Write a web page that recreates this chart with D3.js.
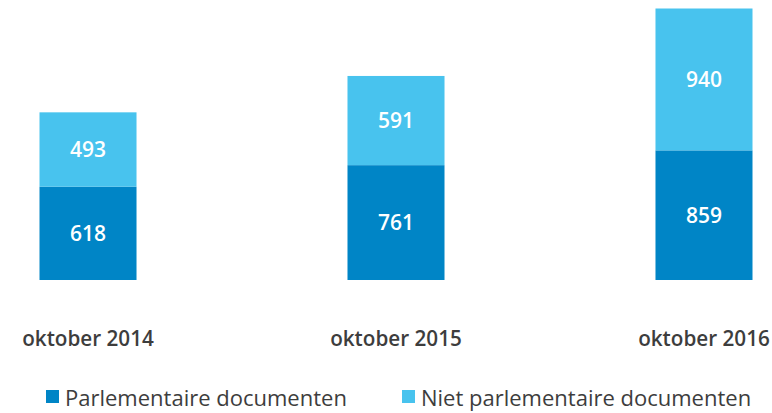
<!DOCTYPE html>
<html>
<head>
<meta charset="utf-8">
<style>
  body { margin: 0; background: #fff; }
  svg text { font-family: "Open Sans", sans-serif; }
</style>
</head>
<body>
<script src="https://d3js.org/d3.v7.min.js"></script>
<script>
  // chart data
  const years = ['oktober 2014', 'oktober 2015', 'oktober 2016'];
  const parlementair = [618, 761, 859];
  const nietParlementair = [493, 591, 940];
  const seriesNames = ['Parlementaire documenten', 'Niet parlementaire documenten'];
  const colors = ['#0085c6', '#48c3ee'];

  const w = 772, h = 413;
  const svg = d3.select('body').append('svg')
    .attr('width', w).attr('height', h);

  const rows = years.map((y, i) => ({ year: y, p: parlementair[i], n: nietParlementair[i] }));
  const stack = d3.stack().keys(['p', 'n'])(rows);

  const x = d3.scaleBand().domain(years).range([39.5, 752.5]).paddingInner(0.685).paddingOuter(0);
  const y = d3.scaleLinear()
    .domain([0, d3.max(rows, d => d.p + d.n)])
    .range([280, 8.5]);

  const layers = svg.selectAll('g.layer')
    .data(stack).enter()
    .append('g').attr('class', 'layer')
    .attr('fill', (_, i) => colors[i]);

  layers.selectAll('rect')
    .data(d => d).enter()
    .append('rect')
    .attr('x', d => x(d.data.year))
    .attr('y', d => y(d[1]))
    .attr('width', x.bandwidth())
    .attr('height', d => y(d[0]) - y(d[1]));

  layers.selectAll('text')
    .data(d => d).enter()
    .append('text')
    .text(d => d[1] - d[0])
    .attr('x', d => x(d.data.year) + x.bandwidth() / 2)
    .attr('y', d => (y(d[0]) + y(d[1])) / 2)
    .attr('dy', '0.37em')
    .attr('text-anchor', 'middle')
    .attr('fill', '#fff')
    .attr('font-size', 21)
    .attr('font-weight', 600);

  // category labels under the bars
  svg.append('g').selectAll('text')
    .data(years).enter()
    .append('text')
    .text(d => d)
    .attr('x', d => x(d) + x.bandwidth() / 2)
    .attr('y', 346)
    .attr('text-anchor', 'middle')
    .attr('fill', '#3d3d3d')
    .attr('font-size', 20.7)
    .attr('font-weight', 600);

  // legend
  const legendX = [46, 402];
  const legend = svg.append('g').selectAll('g')
    .data(seriesNames).enter()
    .append('g')
    .attr('transform', (_, i) => `translate(${legendX[i]},390)`);
  legend.append('rect')
    .attr('width', 13).attr('height', 13)
    .attr('fill', (_, i) => colors[i]);
  legend.append('text')
    .text(d => d)
    .attr('x', 19)
    .attr('y', 16)
    .attr('fill', '#3d3d3d')
    .attr('font-size', 22)
    .attr('font-weight', 500);
</script>
</body>
</html>
